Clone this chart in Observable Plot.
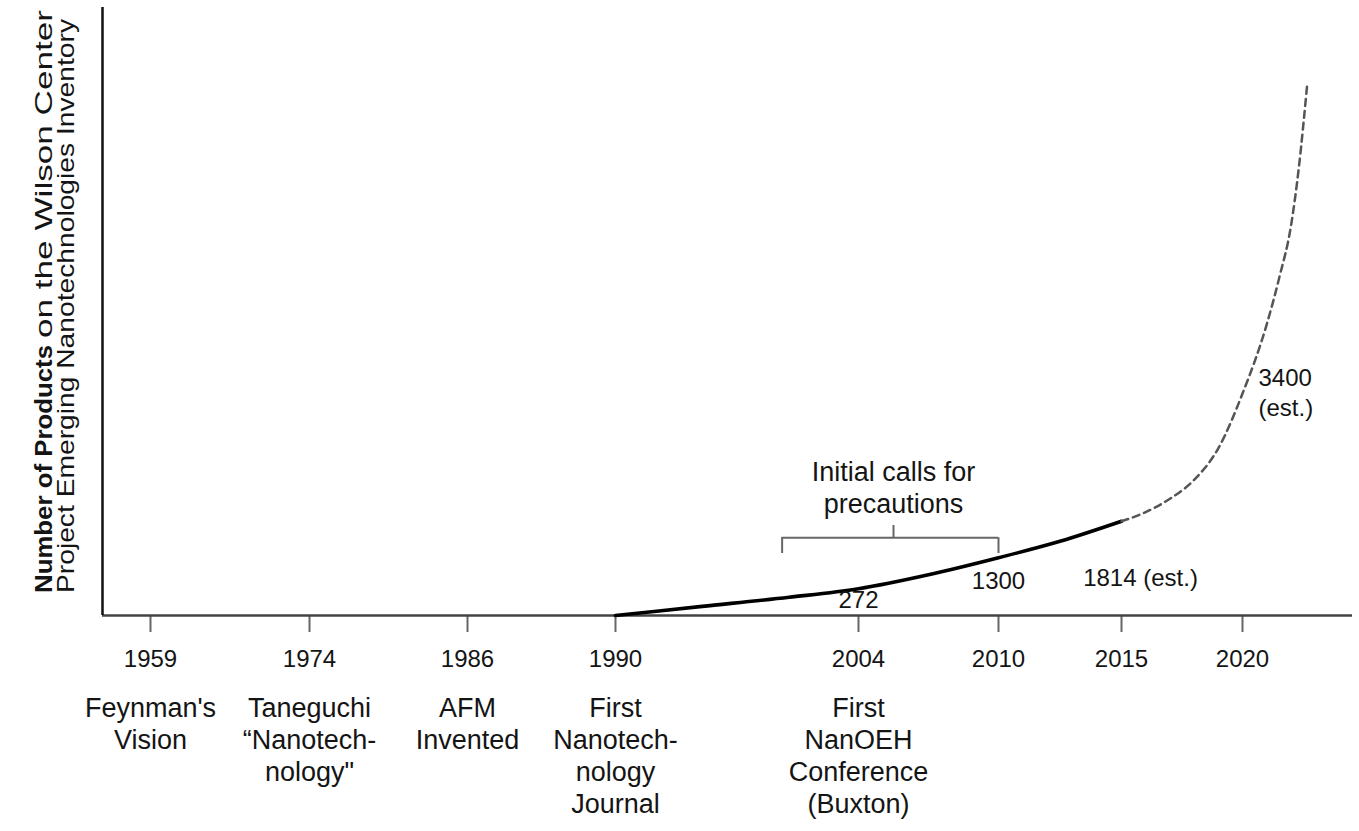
<!DOCTYPE html>
<html><head><meta charset="utf-8">
<script src="https://cdn.jsdelivr.net/npm/d3@7"></script>
<script src="https://cdn.jsdelivr.net/npm/@observablehq/plot@0.6"></script>
<style>
body{margin:0;background:#fff;}
</style></head>
<body><div id="chart"></div>
<script>
// ---- data ----
const tickYears = [1959, 1974, 1986, 1990, 2004, 2010, 2015, 2020];
const eventYears = [1959, 1974, 1986, 1990, 2004];
const eventLabels = [
  "Feynman's\nVision",
  "Taneguchi\n\u201CNanotech-\nnology\"",
  "AFM\nInvented",
  "First\nNanotech-\nnology\nJournal",
  "First\nNanOEH\nConference\n(Buxton)"
];
// schematic height of the curve (relative units, 0 = baseline, 100 = top of axis)
const solidYears  = [1990, 1995, 2000, 2004, 2007, 2010, 2012.5, 2015];
const solidIndex  = [0, 1.5, 3.0, 4.4, 6.7, 9.5, 12.2, 15.5];
const dashedYears = [2015, 2016, 2017, 2018, 2019, 2020, 2021, 2021.5, 2022, 2022.3, 2022.65];
const dashedIndex = [15.5, 17.0, 19.2, 22.3, 27.5, 36.5, 48, 55.5, 64.5, 73.5, 87.5];
const countYears  = [2004, 2010, 2015, 2020];
const countLabels = ["272", "1300", "1814 (est.)", "3400\n(est.)"];
const precautionYears = [1999.6, 2010];
const precautionLabel = "Initial calls for\nprecautions";

// ---- build tables ----
const solid = solidYears.map((x, i) => ({x, y: solidIndex[i]}));
const dashed = dashedYears.map((x, i) => ({x, y: dashedIndex[i]}));
const events = eventYears.map((x, i) => ({x, label: eventLabels[i]}));
const curveAt = yr => {
  const all = solid.concat(dashed.slice(1));
  for (let i = 1; i < all.length; i++) {
    if (yr <= all[i].x) {
      const a = all[i-1], b = all[i];
      return a.y + (b.y - a.y) * (yr - a.x) / (b.x - a.x);
    }
  }
  return all[all.length-1].y;
};
const counts = countYears.map((x, i) => ({x, y: curveAt(x), label: countLabels[i]}));

const bracketTop = 12.8, bracketEnd = 10.2, bracketTick = 14.8, bracketText = 21.2;
const pMid = 2005.5;
const xStart = 1956, xEnd = 2024.5;

// non-uniform (schematic) time axis: years -> axis units
const timeline = d3.scaleLinear()
  .domain([xStart, ...tickYears, xEnd])
  .range([0, 48, 207, 365, 513, 756, 896, 1019, 1140, 1250]);

const FONT = "'Liberation Sans', Arial, Helvetica, sans-serif";
const FS = 27;   // words
const FN = 24;   // numbers
const INK = "#141414";

const chart = Plot.plot({
  width: 1359,
  height: 831,
  marginLeft: 102,
  marginRight: 7,
  marginTop: 7,
  marginBottom: 216,
  style: {fontFamily: FONT, background: "#fff", color: INK},
  x: {transform: timeline, domain: [0, 1250], axis: null},
  y: {domain: [0, 100], axis: null},
  marks: [
    Plot.axisX({ticks: tickYears.map(timeline), tickFormat: d => String(Math.round(timeline.invert(d))),
      tickSize: 17, tickPadding: 17, fontSize: FN, stroke: "#666", strokeWidth: 2, fill: INK, label: null}),
    Plot.ruleY([0], {stroke: "#444", strokeWidth: 2.5}),
    Plot.ruleX([xStart], {y1: 0, y2: 100, stroke: "#111", strokeWidth: 2.5}),
    Plot.text(events, {x: "x", text: "label", frameAnchor: "bottom", lineAnchor: "top",
      dy: 79, fontSize: FS, lineHeight: 1.185, fill: INK}),
    Plot.line(solid, {x: "x", y: "y", curve: "monotone-x", stroke: "#000", strokeWidth: 3.6}),
    Plot.line(dashed, {x: "x", y: "y", curve: "monotone-x", stroke: "#555", strokeWidth: 2.5, strokeDasharray: "7,5"}),
    // bracket
    Plot.ruleY([bracketTop], {x1: precautionYears[0], x2: precautionYears[1], stroke: "#666", strokeWidth: 2}),
    Plot.ruleX(precautionYears, {y1: bracketEnd, y2: bracketTop, stroke: "#666", strokeWidth: 2}),
    Plot.ruleX([pMid], {y1: bracketTop, y2: bracketTick, stroke: "#666", strokeWidth: 2}),
    Plot.text([precautionLabel], {x: pMid, y: bracketText, text: d => d, lineAnchor: "middle",
      fontSize: FS, lineHeight: 1.185, fill: INK}),
    // counts
    Plot.text(counts.slice(0,1), {x: "x", y: "y", text: "label", dy: 12, fontSize: FN, fill: INK}),
    Plot.text(counts.slice(1,2), {x: "x", y: "y", text: "label", dy: 24, fontSize: FN, fill: INK}),
    Plot.text(counts.slice(2,3), {x: "x", y: "y", text: "label", dx: 19, dy: 57, fontSize: FN, fill: INK}),
    Plot.text(counts.slice(3,4), {x: "x", y: "y", text: "label", textAnchor: "start", dx: 16, dy: -2,
      fontSize: FN, lineHeight: 1.25, fill: INK})
  ]
});

document.getElementById("chart").appendChild(chart);

// two-line y label with bold lead
const svg = d3.select(chart);
const g = svg.append("g").attr("font-family", FONT)
  .attr("font-size", 24).attr("fill", INK).attr("text-anchor", "start");
g.append("text").attr("transform", "translate(52,593) rotate(-90)")
  .attr("font-weight", "bold").attr("textLength", 248).attr("lengthAdjust", "spacingAndGlyphs")
  .text("Number of Products");
g.append("text").attr("transform", "translate(52,338) rotate(-90)")
  .attr("textLength", 328).attr("lengthAdjust", "spacingAndGlyphs")
  .text("on the Wilson Center");
g.append("text").attr("transform", "translate(74,593) rotate(-90)")
  .attr("textLength", 574).attr("lengthAdjust", "spacingAndGlyphs")
  .text("Project Emerging Nanotechnologies Inventory");
</script>
</body></html>
